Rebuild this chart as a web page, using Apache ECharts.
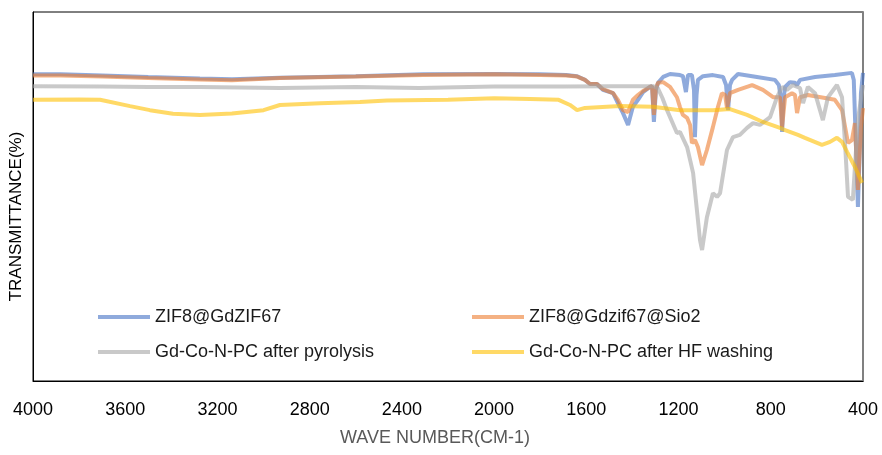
<!DOCTYPE html>
<html>
<head>
<meta charset="utf-8">
<script src="https://cdn.jsdelivr.net/npm/echarts@6/dist/echarts.min.js"></script>
<style>
html,body{margin:0;padding:0;background:#fff;}
#chart{width:882px;height:455px;}
</style>
</head>
<body>
<div id="chart"></div>
<script>
// Wave number tick labels (cm-1)
const xTicks = [4000, 3600, 3200, 2800, 2400, 2000, 1600, 1200, 800, 400];

const seriesNames = [
  'ZIF8@GdZIF67',
  'ZIF8@Gdzif67@Sio2',
  'Gd-Co-N-PC after pyrolysis',
  'Gd-Co-N-PC after HF washing'
];

// [wave number, transmittance]
const zif8GdZif67 = [
  [4000,83.1],[3880,83.1],[3700,82.8],[3500,82.4],[3276,82.0],[3137,81.8],[2929,82.2],
  [2600,82.6],[2308,83.1],[2000,83.2],[1800,83.1],[1688,82.9],[1640,82.6],[1606,81.6],
  [1584,80.5],[1554,80.5],[1528,78.9],[1484,78.0],[1463,75.3],[1441,72.6],[1419,69.4],
  [1398,74.3],[1376,76.2],[1354,78.3],[1324,79.7],[1315,79.9],[1307,70.2],[1298,78.9],
  [1289,80.8],[1267,82.4],[1237,83.2],[1194,82.9],[1181,82.6],[1168,78.3],[1159,82.9],
  [1142,82.9],[1133,78.9],[1129,66.1],[1122,77.5],[1116,81.6],[1094,82.6],[1051,82.9],
  [1007,82.4],[994,80.2],[985,73.4],[977,80.2],[968,81.6],[942,83.2],[860,82.4],
  [782,81.6],[765,80.2],[755,76.2],[751,67.5],[745,76.2],[738,79.7],[717,81.0],
  [695,80.8],[686,80.2],[673,81.6],[608,82.4],[522,82.9],[448,83.5],[440,81.6],
  [430,62.6],[422,47.2],[414,62.6],[409,78.0],[400,83.5]
];

const zif8GdZif67SiO2 = [
  [4000,82.8],[3880,82.8],[3700,82.5],[3500,82.1],[3276,81.7],[3137,81.5],[2929,82.1],
  [2600,82.5],[2308,82.9],[2000,83.1],[1800,82.9],[1688,82.8],[1640,82.5],[1606,81.6],
  [1584,80.5],[1554,80.5],[1528,79.1],[1484,78.0],[1463,76.2],[1441,73.4],[1419,72.9],
  [1398,76.2],[1376,77.5],[1354,78.6],[1324,79.7],[1315,79.9],[1307,72.1],[1298,79.4],
  [1289,80.8],[1267,81.0],[1237,79.7],[1207,76.9],[1194,74.3],[1181,72.1],[1163,71.3],
  [1150,69.4],[1142,64.5],[1129,65.3],[1116,63.4],[1103,59.9],[1098,58.5],[1077,62.6],
  [1051,68.8],[1029,74.3],[1012,78.0],[998,77.5],[990,74.0],[981,76.7],[977,78.0],
  [942,78.9],[881,80.2],[834,78.9],[790,76.9],[760,76.9],[751,68.8],[738,76.9],
  [708,78.0],[695,77.5],[686,72.6],[673,76.9],[639,77.5],[565,76.7],[522,76.2],
  [491,73.4],[465,64.5],[448,65.3],[435,69.9],[422,51.8],[409,68.8],[400,74.0]
];

const pyrolysis = [
  [4000,79.9],[3700,79.8],[3500,79.7],[3276,79.7],[2929,79.4],[2600,79.7],[2326,79.4],
  [2000,79.8],[1700,79.8],[1500,79.9],[1311,79.9],[1290,79.4],[1270,76.7],[1250,73.4],
  [1207,67.2],[1194,67.5],[1163,63.4],[1137,56.4],[1107,38.2],[1098,35.5],[1077,44.4],
  [1051,50.9],[1033,49.9],[1020,50.9],[990,62.6],[964,66.1],[934,66.7],[903,68.6],
  [877,69.9],[847,69.4],[803,71.5],[773,76.9],[751,79.7],[730,78.9],[704,80.2],
  [673,79.4],[660,75.3],[639,79.7],[608,78.0],[574,70.7],[552,76.9],[513,80.2],
  [491,76.9],[478,64.5],[465,49.9],[444,49.1],[422,70.7],[400,80.2]
];

const hfWashing = [
  [4000,76.2],[3800,76.3],[3709,76.2],[3579,74.5],[3493,73.4],[3393,72.4],[3276,72.1],
  [3137,72.5],[3000,73.4],[2929,74.8],[2755,75.3],[2582,75.6],[2465,76.0],[2200,76.2],
  [2000,76.6],[1844,76.4],[1720,76.2],[1671,74.8],[1640,73.4],[1606,74.0],[1454,74.5],
  [1311,74.3],[1194,73.4],[1051,73.4],[977,73.7],[903,72.1],[834,70.2],[760,68.6],
  [738,68.0],[682,66.7],[652,65.9],[578,64.0],[543,64.8],[513,65.9],[491,64.8],
  [469,62.1],[435,58.0],[404,53.7]
];

const seriesData = [zif8GdZif67, zif8GdZif67SiO2, pyrolysis, hfWashing];
const seriesColors = [
  'rgba(68,114,196,0.6)',
  'rgba(237,125,49,0.6)',
  'rgba(165,165,165,0.6)',
  'rgba(255,192,0,0.6)'
];

const FONT = 'Liberation Sans';
const legendPos = [
  {left: 93, top: 303},
  {left: 467, top: 303},
  {left: 93, top: 338},
  {left: 467, top: 338}
];

const chart = echarts.init(document.getElementById('chart'), null, {renderer: 'canvas'});
chart.setOption({
  animation: false,
  backgroundColor: '#fff',
  grid: {
    left: 33, right: 19, top: 12, bottom: 74,
    show: true, borderColor: '#000', borderWidth: 1
  },
  legend: seriesNames.map((n, i) => ({
    data: [n],
    left: legendPos[i].left,
    top: legendPos[i].top,
    icon: 'rect',
    itemWidth: 52,
    itemHeight: 4,
    itemGap: 6,
    selectedMode: false,
    textStyle: {fontFamily: FONT, fontSize: 18, color: '#1a1a1a'}
  })),
  xAxis: {
    type: 'value',
    inverse: true,
    min: 400,
    max: 4000,
    interval: 400,
    name: 'WAVE NUMBER(CM-1)',
    nameLocation: 'middle',
    nameGap: 48,
    nameTextStyle: {fontFamily: FONT, fontSize: 18, color: '#595959', padding: [0, 26, 0, 0]},
    axisLine: {show: true, lineStyle: {color: '#000', width: 1}},
    axisTick: {show: false},
    splitLine: {show: false},
    axisLabel: {
      margin: 20,
      fontFamily: FONT, fontSize: 18, color: '#000',
      formatter: v => (xTicks.indexOf(v) >= 0 ? String(v) : '')
    }
  },
  yAxis: [{
    type: 'value',
    min: 0,
    max: 100,
    name: 'TRANSMITTANCE(%)',
    nameLocation: 'middle',
    nameGap: 8,
    nameTextStyle: {fontFamily: FONT, fontSize: 17, color: '#000', padding: [0, 40, 0, 0]},
    axisLine: {show: true, lineStyle: {color: '#000', width: 1}},
    axisTick: {show: false},
    axisLabel: {show: false},
    splitLine: {show: false}
  }, {
    type: 'value',
    position: 'right',
    min: 0,
    max: 100,
    axisLine: {show: true, lineStyle: {color: '#808080', width: 2}},
    axisTick: {show: false},
    axisLabel: {show: false},
    splitLine: {show: false}
  }],
  series: seriesNames.map((n, i) => ({
    name: n,
    type: 'line',
    data: seriesData[i],
    showSymbol: false,
    symbol: 'none',
    smooth: false,
    color: seriesColors[i],
    lineStyle: {width: 4, color: seriesColors[i]},
    z: 2 + i
  }))
});
</script>
</body>
</html>
